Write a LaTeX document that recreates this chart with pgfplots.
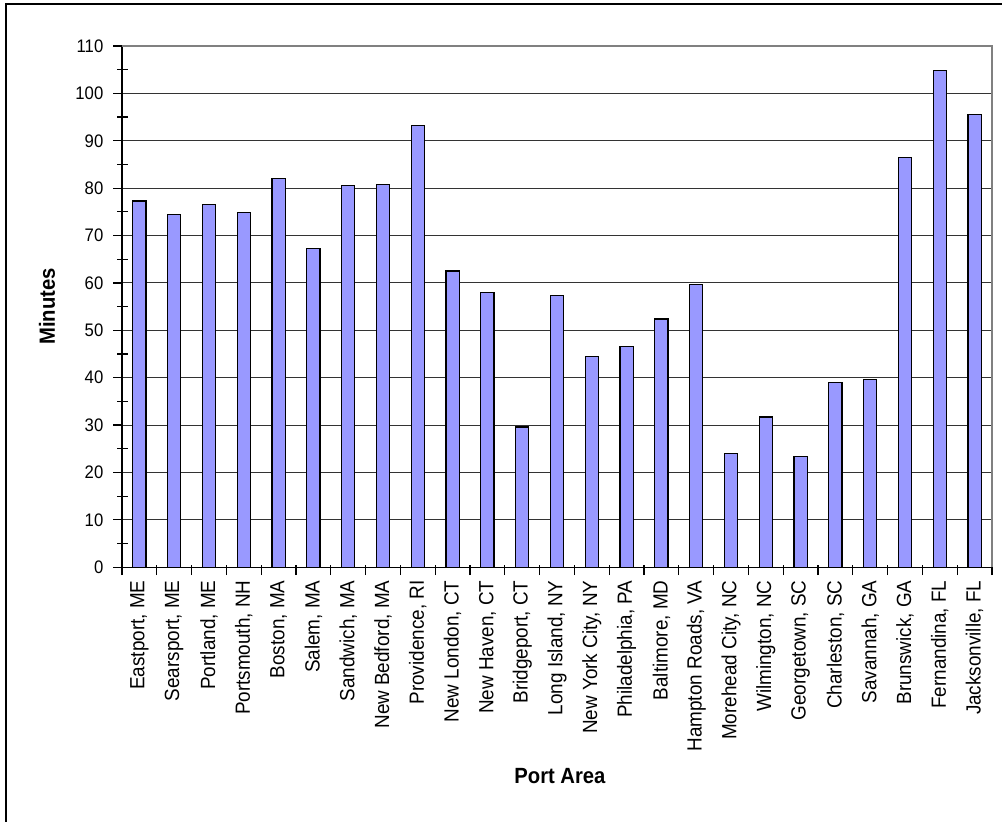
\documentclass[border=0pt]{standalone}
\usepackage{pgfplots}
\pgfplotsset{compat=1.18}
\usepackage{fontspec}
\setmainfont[FakeStretch=0.92]{Liberation Sans}
\definecolor{barfill}{RGB}{153,153,255}
\definecolor{borderg}{RGB}{128,128,128}
\begin{document}
\begin{tikzpicture}
\useasboundingbox (0,0) rectangle (751.5pt,-615.75pt);
\draw[line width=1pt] (4.5pt,-3pt) rectangle (770pt,-640pt);
\begin{axis}[
  at={(91.5pt,-425.4pt)}, anchor=south west,
  scale only axis, width=652.5pt, height=390.9pt,
  xmin=-0.5, xmax=24.5, ymin=0, ymax=110,
  clip=false,
  ybar, bar width=9.8pt,
  axis x line*=bottom, axis y line*=left,
  axis line style={black, line width=1pt},
  tick align=outside,
  major tick length=6.5pt, minor tick length=8pt,
  tick style={black, line width=0.9pt},
  ytick={0,10,...,110}, minor y tick num=1,
  minor y tick style={xshift=4.5pt},
  xtick={0,...,24},
  minor xtick={-0.5,0.5,...,24.5},
  minor x tick style={yshift=2pt},
  major x tick style={draw=none},
  xticklabels={{Eastport, ME},{Searsport, ME},{Portland, ME},{Portsmouth, NH},{Boston, MA},{Salem, MA},{Sandwich, MA},{New Bedford, MA},{Providence, RI},{New London, CT},{New Haven, CT},{Bridgeport, CT},{Long Island, NY},{New York City, NY},{Philadelphia, PA},{Baltimore, MD},{Hampton Roads, VA},{Morehead City, NC},{Wilmington, NC},{Georgetown, SC},{Charleston, SC},{Savannah, GA},{Brunswick, GA},{Fernandina, FL},{Jacksonville, FL}},
  xticklabel style={rotate=90, anchor=east, font=\fontsize{15.4}{16}\selectfont},
  yticklabel style={xshift=-4pt, font=\fontsize{13.6}{15}\selectfont},
  /pgf/number format/assume math mode=true,
  ymajorgrids,
  major grid style={black!80, line width=0.75pt},
  xlabel={Port Area},
  ylabel={Minutes},
  xlabel style={at={(axis description cs:0.5034,-0.4016)}, anchor=center, font=\bfseries\fontsize{16.5}{18}\selectfont},
  ylabel style={at={(axis description cs:-0.0862,0.5)}, anchor=center, rotate=0, font=\bfseries\fontsize{16.5}{18}\selectfont},
]
\addplot[fill=barfill, draw=black, line width=0.9pt] coordinates {
(0,77.3) (1,74.5) (2,76.5) (3,74.9) (4,82.1) (5,67.3) (6,80.5) (7,80.8) (8,93.2) (9,62.5)
(10,58.0) (11,29.6) (12,57.3) (13,44.4) (14,46.5) (15,52.4) (16,59.7) (17,24.0) (18,31.7) (19,23.3)
(20,38.9) (21,39.6) (22,86.4) (23,104.8) (24,95.6)};
\draw[borderg, line width=0.9pt] (axis cs:-0.5,110) -- (axis cs:24.5,110) -- (axis cs:24.5,0);
\end{axis}
\end{tikzpicture}
\end{document}
